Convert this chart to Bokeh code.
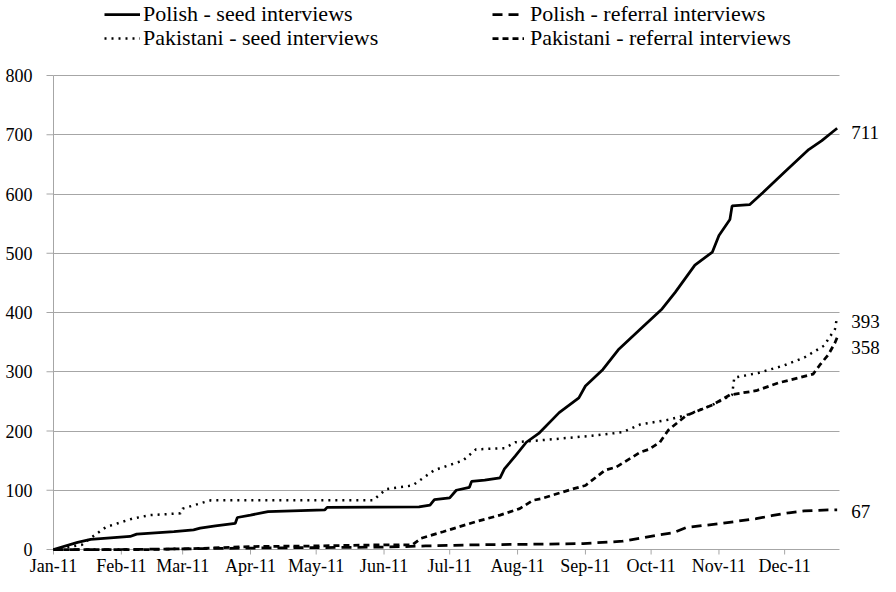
import pandas as pd
from bokeh.plotting import figure
from bokeh.models import (ColumnDataSource, Range1d, FixedTicker, Legend, LegendItem, Grid)
from bokeh.core.properties import value
from bokeh.embed import file_html
from bokeh.resources import INLINE

# ---------------- data ----------------
polish_seed_dates = ["2011-01-01", "2011-01-12", "2011-01-18", "2011-02-05", "2011-02-08", "2011-02-25",
                     "2011-03-06", "2011-03-09", "2011-03-16", "2011-03-25", "2011-03-26", "2011-04-01",
                     "2011-04-09", "2011-05-05", "2011-05-06", "2011-06-17", "2011-06-22", "2011-06-24",
                     "2011-07-01", "2011-07-04", "2011-07-10", "2011-07-11", "2011-07-17", "2011-07-24",
                     "2011-07-26", "2011-07-31", "2011-08-05", "2011-08-11", "2011-08-20", "2011-08-29",
                     "2011-09-01", "2011-09-09", "2011-09-16", "2011-09-27", "2011-10-06", "2011-10-12",
                     "2011-10-21", "2011-10-29", "2011-11-01", "2011-11-06", "2011-11-07", "2011-11-15",
                     "2011-11-21", "2011-12-01", "2011-12-12", "2011-12-18", "2011-12-23", "2011-12-25"]
polish_seed_values = [0, 12, 17, 22, 26, 30, 33, 36, 40, 44, 54, 58, 64, 67, 71, 72, 75, 84, 87, 100, 105,
                      115, 117, 121, 136, 158, 181, 197, 231, 256, 276, 304, 337, 375, 406, 434, 480, 502,
                      530, 557, 580, 582, 602, 637, 675, 690, 705, 711]

polish_ref_dates = ["2011-01-01", "2011-02-01", "2011-03-01", "2011-03-20", "2011-04-20", "2011-06-01",
                    "2011-06-20", "2011-07-15", "2011-08-10", "2011-08-31", "2011-09-18", "2011-09-26",
                    "2011-10-05", "2011-10-11", "2011-10-17", "2011-10-26", "2011-11-02", "2011-11-10",
                    "2011-11-18", "2011-11-25", "2011-12-03", "2011-12-10", "2011-12-21", "2011-12-25"]
polish_ref_values = [0, 0, 1, 2, 3, 4, 6, 8, 9, 10, 14, 19, 25, 28, 37, 41, 44, 48, 52, 57, 62, 65, 67, 67]

pak_seed_dates = ["2011-01-01", "2011-01-14", "2011-01-16", "2011-01-25", "2011-02-06", "2011-02-14",
                  "2011-02-28", "2011-03-01", "2011-03-11", "2011-03-14", "2011-05-27", "2011-06-02",
                  "2011-06-14", "2011-06-24", "2011-07-07", "2011-07-13", "2011-07-26", "2011-07-31",
                  "2011-08-17", "2011-09-04", "2011-09-18", "2011-09-26", "2011-10-09", "2011-10-18",
                  "2011-10-29", "2011-11-07", "2011-11-08", "2011-11-19", "2011-12-01", "2011-12-10",
                  "2011-12-19", "2011-12-24", "2011-12-25"]
pak_seed_values = [0, 8, 14, 38, 52, 58, 61, 69, 80, 83, 83, 102, 108, 134, 150, 169, 171, 181, 186, 192,
                   198, 211, 219, 228, 244, 261, 290, 298, 311, 324, 344, 372, 393]

pak_ref_dates = ["2011-01-01", "2011-02-15", "2011-03-10", "2011-04-01", "2011-05-01", "2011-06-01",
                 "2011-06-14", "2011-06-18", "2011-06-28", "2011-07-13", "2011-07-24", "2011-08-02",
                 "2011-08-08", "2011-08-12", "2011-08-26", "2011-09-01", "2011-09-10", "2011-09-15",
                 "2011-09-26", "2011-09-30", "2011-10-05", "2011-10-09", "2011-10-17", "2011-10-29",
                 "2011-11-06", "2011-11-18", "2011-11-28", "2011-12-14", "2011-12-17", "2011-12-21",
                 "2011-12-24", "2011-12-25"]
pak_ref_values = [0, 0, 2, 5, 6, 8, 8, 19, 30, 47, 58, 69, 83, 86, 102, 108, 134, 139, 164, 169, 181, 202,
                  226, 244, 261, 268, 281, 296, 311, 329, 349, 358]

series_names = ["Polish - seed interviews", "Polish - referral interviews",
                "Pakistani - seed interviews", "Pakistani - referral interviews"]

month_ticks = ["2011-01-01", "2011-02-01", "2011-03-01", "2011-04-01", "2011-05-01", "2011-06-01",
               "2011-07-01", "2011-08-01", "2011-09-01", "2011-10-01", "2011-11-01", "2011-12-01"]
month_labels = ["Jan-11", "Feb-11", "Mar-11", "Apr-11", "May-11", "Jun-11",
                "Jul-11", "Aug-11", "Sep-11", "Oct-11", "Nov-11", "Dec-11"]
y_ticks = [0, 100, 200, 300, 400, 500, 600, 700, 800]
y_labels = ["0", "100", "200", "300", "400", "500", "600", "700", "800"]
axis_start, axis_end = "2011-01-01", "2011-12-26"

FONT = "Liberation Serif"
GRID = "#a6a6a6"

# Layout constants (pixels): the plot frame covers the whole canvas, the
# axes are drawn inside it so that no text is clipped.
PX_PER_DAY = 2.189
PX_PER_UNIT = 0.5925
ORIGIN_X = 53    # canvas x of Jan 1
ORIGIN_Y = 549   # canvas y of value 0
W, H = 880, 576

x0 = pd.Timestamp(axis_start)
x_range = Range1d(x0 - pd.Timedelta(days=ORIGIN_X / PX_PER_DAY),
                  x0 + pd.Timedelta(days=(W - ORIGIN_X) / PX_PER_DAY))
y_range = Range1d(-(H - ORIGIN_Y) / PX_PER_UNIT, ORIGIN_Y / PX_PER_UNIT)

p = figure(width=W, height=H, x_axis_type="datetime", x_axis_location=None, y_axis_location=None,
           output_backend="svg", toolbar_location=None, x_range=x_range, y_range=y_range,
           min_border_left=0, min_border_right=0, min_border_top=0, min_border_bottom=0)
p.outline_line_color = None
p.background_fill_color = "white"
p.title.visible = False
# hide the default grids that come with the (unplaced) default axes
for g in list(p.center):
    if isinstance(g, Grid):
        g.visible = False

start_ms = pd.Timestamp(axis_start).value / 1e6
end_ms = pd.Timestamp(axis_end).value / 1e6

# horizontal gridlines (the 0 line is also the date axis line)
hgrid = Grid(dimension=1, ticker=FixedTicker(ticks=y_ticks), grid_line_color=GRID, grid_line_width=1)
# vertical value-axis line at Jan 1
vaxis = Grid(dimension=0, ticker=FixedTicker(ticks=[start_ms]), grid_line_color=GRID, grid_line_width=1)
if "cross_bounds" in hgrid.properties():
    hgrid.cross_bounds = (start_ms, end_ms)
    vaxis.cross_bounds = (y_ticks[0], y_ticks[-1])
p.add_layout(hgrid)
p.add_layout(vaxis)

# value-axis tick marks and labels
ytick_len_days = pd.Timedelta(days=7 / PX_PER_DAY)
p.segment(x0=[x0 - ytick_len_days] * len(y_ticks), y0=y_ticks, x1=[x0] * len(y_ticks), y1=y_ticks,
          line_color=GRID, line_width=1)
p.text(x=[x0] * len(y_ticks), y=y_ticks, text=y_labels, x_offset=-21,
       text_align="right", text_baseline="middle",
       text_font=value(FONT), text_font_size="18px", text_color="black")

# date-axis tick marks and month labels
tick_x = pd.to_datetime(month_ticks)
xtick_len = 5 / PX_PER_UNIT
p.segment(x0=tick_x, y0=[0] * len(tick_x), x1=tick_x, y1=[-xtick_len] * len(tick_x),
          line_color=GRID, line_width=1)
p.text(x=tick_x, y=[0] * len(tick_x), text=month_labels, y_offset=16,
       text_align="center", text_baseline="middle",
       text_font=value(FONT), text_font_size="18px", text_color="black")

styles = [
    dict(line_dash="solid", line_width=2.75),
    dict(line_dash="10 6", line_width=2.75),
    dict(line_dash="2 5", line_width=2.5),
    dict(line_dash="6 4", line_width=2.75),
]
data = [(polish_seed_dates, polish_seed_values),
        (polish_ref_dates, polish_ref_values),
        (pak_seed_dates, pak_seed_values),
        (pak_ref_dates, pak_ref_values)]

renderers = []
for (dates, vals), st in zip(data, styles):
    src = ColumnDataSource(dict(x=pd.to_datetime(dates), y=vals))
    r = p.line("x", "y", source=src, line_color="black", **st)
    renderers.append(r)

# end labels
label_dy = [4, 2, 5, 10]
for (dates, vals), dy in zip(data, label_dy):
    p.text(x=[pd.Timestamp(dates[-1])], y=[vals[-1]], text=[str(vals[-1])],
           x_offset=14, y_offset=dy, text_baseline="middle", text_align="left",
           text_font=value(FONT), text_font_size="19px", text_color="black")

# legends (2 x 2 grid)
legend_pos = [(104, 549), (492, 549), (104, 525), (492, 525)]
glyph_w = [36, 32, 36, 32]
standoff = [3, 6, 3, 6]
for r, name, pos, gw, so in zip(renderers, series_names, legend_pos, glyph_w, standoff):
    lg = Legend(items=[LegendItem(label=name, renderers=[r])], location=pos,
                padding=0, margin=0, spacing=0, label_standoff=so,
                glyph_width=gw, glyph_height=20, label_height=20,
                border_line_alpha=0, background_fill_alpha=0,
                label_text_font=FONT, label_text_font_size="22px", label_text_color="black")
    p.add_layout(lg)

open("out.html", "w").write(file_html(p, INLINE))
